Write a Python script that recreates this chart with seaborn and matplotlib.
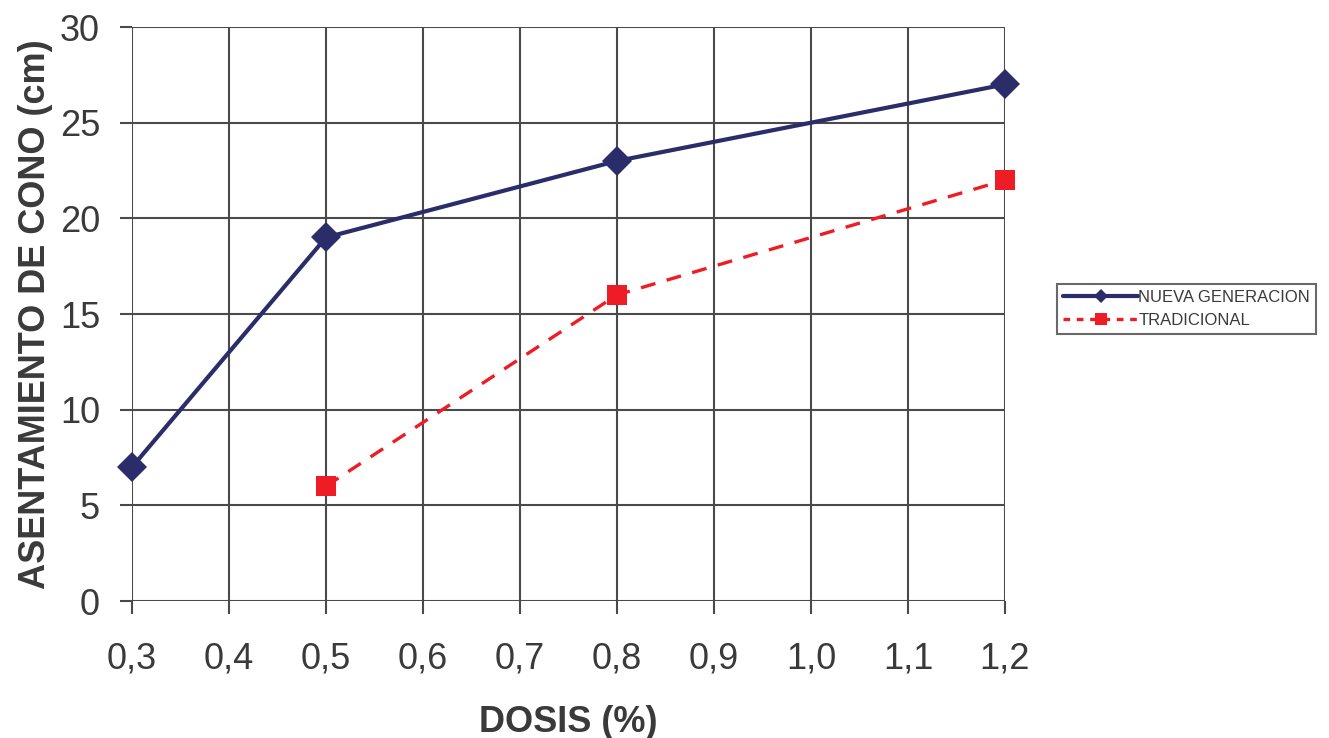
import matplotlib
matplotlib.use("Agg")
import matplotlib.pyplot as plt
import seaborn as sns
import pandas as pd
from matplotlib.lines import Line2D

dosis_nueva = [0.3, 0.5, 0.8, 1.2]
asent_nueva = [7, 19, 23, 27]
dosis_trad = [0.5, 0.8, 1.2]
asent_trad = [6, 16, 22]
x_ticks = [0.3, 0.4, 0.5, 0.6, 0.7, 0.8, 0.9, 1.0, 1.1, 1.2]
y_ticks = [0, 5, 10, 15, 20, 25, 30]
series_names = ["NUEVA GENERACION", "TRADICIONAL"]

sns.set_theme(style="white")
plt.rcParams["font.family"] = ["Liberation Sans", "DejaVu Sans"]

navy = "#2b2d6b"
red = "#ee1c25"
grid_c = "#4a4a4a"
txt_c = "#3a3a3a"

df_n = pd.DataFrame({"x": dosis_nueva, "y": asent_nueva})
df_t = pd.DataFrame({"x": dosis_trad, "y": asent_trad})

fig = plt.figure(figsize=(13.29, 7.38), dpi=100)
ax = fig.add_axes([0.0993, 0.1856, 0.6569, 0.7778])

for xv in x_ticks:
    ax.axvline(xv, color=grid_c, lw=1.5, zorder=1)
for yv in y_ticks:
    ax.axhline(yv, color=grid_c, lw=1.5, zorder=1)

sns.lineplot(data=df_t, x="x", y="y", ax=ax, color=red, lw=2.4,
             marker="s", markersize=14, markeredgewidth=0,
             dashes=False, linestyle=(0, (4.5, 3.5)), zorder=3, clip_on=False)
sns.lineplot(data=df_n, x="x", y="y", ax=ax, color=navy, lw=3.0,
             marker="D", markersize=15, markeredgewidth=0, zorder=4, clip_on=False)

ax.set_xlim(0.3, 1.2)
ax.set_ylim(0, 30)
ax.set_xticks(x_ticks)
ax.set_xticklabels([f"{v:.1f}".replace(".", ",") for v in x_ticks])
ax.set_yticks(y_ticks)
ax.set_yticklabels([str(v) for v in y_ticks])
for s in ax.spines.values():
    s.set_visible(False)
ax.tick_params(axis="both", direction="out", length=9, width=1.5, color=grid_c,
               labelsize=26, labelcolor=txt_c, bottom=True, left=True)
ax.tick_params(axis="x", pad=20)
ax.tick_params(axis="y", pad=14)
ax.set_xlabel("DOSIS (%)", fontsize=26, fontweight="bold", color=txt_c, labelpad=21)
ax.set_ylabel("ASENTAMIENTO DE CONO (cm)", fontsize=26, fontweight="bold", color=txt_c, labelpad=5)
ax.set_facecolor("white")

handles = [
    Line2D([0], [0], color=navy, lw=3, marker="D", markersize=7, markeredgewidth=0),
    Line2D([0], [0], color=red, lw=2.4, linestyle=(0, (2, 2)), marker="s", markersize=8, markeredgewidth=0),
]
leg = fig.legend(handles, series_names, loc="center left",
                 bbox_to_anchor=(1049 / 1329, 1 - 309 / 738),
                 fontsize=12, frameon=True, fancybox=False, handlelength=4.5,
                 handletextpad=0.0, borderpad=0.35, labelspacing=0.5)
leg.get_frame().set_edgecolor("#444444")
leg.get_frame().set_linewidth(1.5)
for t in leg.get_texts():
    t.set_color(txt_c)

fig.savefig("out.png", dpi=100, facecolor="white")
